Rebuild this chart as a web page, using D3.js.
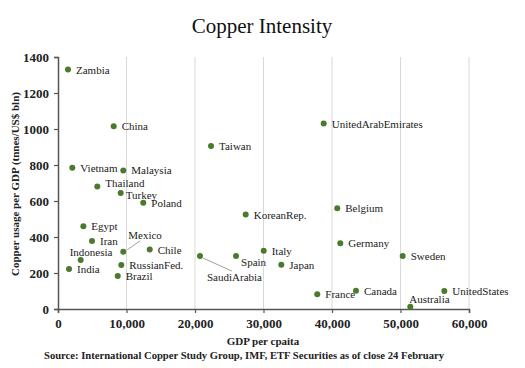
<!DOCTYPE html>
<html>
<head>
<meta charset="utf-8">
<script src="https://cdn.jsdelivr.net/npm/d3@7"></script>
<style>
  body { margin: 0; background: #fff; }
  text { font-family: "Liberation Serif", "DejaVu Serif", serif; }
</style>
</head>
<body>
<div id="vis"></div>
<script>
// data
let countries = ['Zambia', 'China', 'Vietnam', 'Malaysia', 'Thailand', 'Turkey', 'Poland',
  'Egypt', 'Iran', 'Mexico', 'Chile', 'Indonesia', 'India', 'RussianFed.', 'Brazil',
  'UnitedArabEmirates', 'Taiwan', 'SaudiArabia', 'KoreanRep.', 'Spain', 'Italy', 'Japan',
  'France', 'Belgium', 'Germany', 'Canada', 'Sweden', 'UnitedStates', 'Australia'];
let gdpPerCapita = [1460, 8130, 2090, 9530, 5740, 9150, 12450,
  3700, 4960, 9530, 13390, 3310, 1610, 9240, 8720,
  38790, 22340, 20730, 27400, 25990, 30030, 32600,
  37850, 40770, 41210, 43500, 50320, 56400, 51430];
let copperUsage = [1330, 1015, 785, 770, 680, 645, 590,
  460, 378, 318, 330, 272, 222, 244, 183,
  1030, 905, 294, 525, 294, 324, 246,
  82, 560, 365, 102, 294, 100, 13];
let xTicks = [0, 10000, 20000, 30000, 40000, 50000, 60000];
let yTicks = [0, 200, 400, 600, 800, 1000, 1200, 1400];

// label placement tweaks (dx, dy from the point, optional leader line)
let labelPos = {
  'Thailand':    { dx: 8,   dy: 0 },
  'Turkey':      { dx: 5,   dy: 6 },
  'Mexico':      { dx: 5,   dy: -13, leader: [4, -2, 17, -11] },
  'Indonesia':   { dx: -11, dy: -4 },
  'SaudiArabia': { dx: 7,   dy: 25, leader: [3, 2, 32, 15] },
  'Spain':       { dx: 5,   dy: 10 },
  'France':      { dx: 8,   dy: 4 },
  'Australia':   { dx: -1,  dy: -4 }
};

let points = countries.map((c, i) => ({ name: c, x: gdpPerCapita[i], y: copperUsage[i] }));

let W = 525, H = 368;
let margin = { top: 57, left: 58, right: 56, bottom: 59 };

let svg = d3.select('#vis')
  .append('svg')
    .attr('width', W)
    .attr('height', H)
    .attr('viewBox', [0, 0, W, H].join(' '));

let x = d3.scaleLinear().domain([0, 60000]).range([margin.left, W - margin.right]);
let y = d3.scaleLinear().domain([0, 1400]).range([H - margin.bottom, margin.top]);

// vertical gridlines
svg.append('g')
  .selectAll('line')
  .data(xTicks.slice(1))
  .join('line')
    .attr('x1', d => x(d)).attr('x2', d => x(d))
    .attr('y1', y(0)).attr('y2', y(1400))
    .attr('stroke', '#d9d9d9')
    .attr('stroke-width', 1);

// x axis
let xAxis = svg.append('g')
  .attr('transform', `translate(0,${y(0)})`)
  .call(d3.axisBottom(x).tickValues(xTicks).tickFormat(d3.format(',')).tickSize(4).tickPadding(6));
// y axis
let yAxis = svg.append('g')
  .attr('transform', `translate(${x(0)},0)`)
  .call(d3.axisLeft(y).tickValues(yTicks).tickFormat(d3.format('d')).tickSize(4).tickPadding(5));

[xAxis, yAxis].forEach(a => {
  a.select('.domain').attr('stroke', '#555').attr('stroke-width', 1.5);
  a.selectAll('.tick line').attr('stroke', '#555').attr('stroke-width', 1.2);
  a.selectAll('.tick text')
    .attr('fill', '#222')
    .style('font-family', '"Liberation Serif", serif')
    .style('font-size', '13px')
    .style('font-weight', 'bold');
});

// leader lines
svg.append('g')
  .selectAll('line')
  .data(points.filter(p => labelPos[p.name] && labelPos[p.name].leader))
  .join('line')
    .attr('x1', p => x(p.x) + labelPos[p.name].leader[0])
    .attr('y1', p => y(p.y) + labelPos[p.name].leader[1])
    .attr('x2', p => x(p.x) + labelPos[p.name].leader[2])
    .attr('y2', p => y(p.y) + labelPos[p.name].leader[3])
    .attr('stroke', '#888')
    .attr('stroke-width', 0.8);

// points
svg.append('g')
  .selectAll('circle')
  .data(points)
  .join('circle')
    .attr('cx', p => x(p.x))
    .attr('cy', p => y(p.y))
    .attr('r', 3)
    .attr('fill', '#4b7a2d');

// point labels
svg.append('g')
  .selectAll('text')
  .data(points)
  .join('text')
    .attr('x', p => x(p.x) + (labelPos[p.name] ? labelPos[p.name].dx : 8))
    .attr('y', p => y(p.y) + (labelPos[p.name] ? labelPos[p.name].dy : 4))
    .attr('fill', '#222')
    .style('font-size', '11px')
    .text(p => p.name);

// title
svg.append('text')
  .attr('x', 262)
  .attr('y', 33)
  .attr('text-anchor', 'middle')
  .attr('fill', '#111')
  .style('font-size', '21px')
  .text('Copper Intensity');

// axis titles
svg.append('text')
  .attr('x', 263)
  .attr('y', 345)
  .attr('text-anchor', 'middle')
  .attr('fill', '#222')
  .style('font-size', '11px')
  .style('font-weight', 'bold')
  .text('GDP per cpaita');

svg.append('text')
  .attr('transform', 'translate(19,184) rotate(-90)')
  .attr('text-anchor', 'middle')
  .attr('fill', '#222')
  .style('font-size', '11px')
  .style('font-weight', 'bold')
  .text('Copper usage per GDP (tnnes/US$ bln)');

// source
svg.append('text')
  .attr('x', 44)
  .attr('y', 359)
  .attr('fill', '#222')
  .style('font-size', '10.5px')
  .style('font-weight', 'bold')
  .attr('textLength', 400)
  .attr('lengthAdjust', 'spacingAndGlyphs')
  .text('Source: International Copper Study Group, IMF, ETF Securities as of close 24 February');
</script>
</body>
</html>
